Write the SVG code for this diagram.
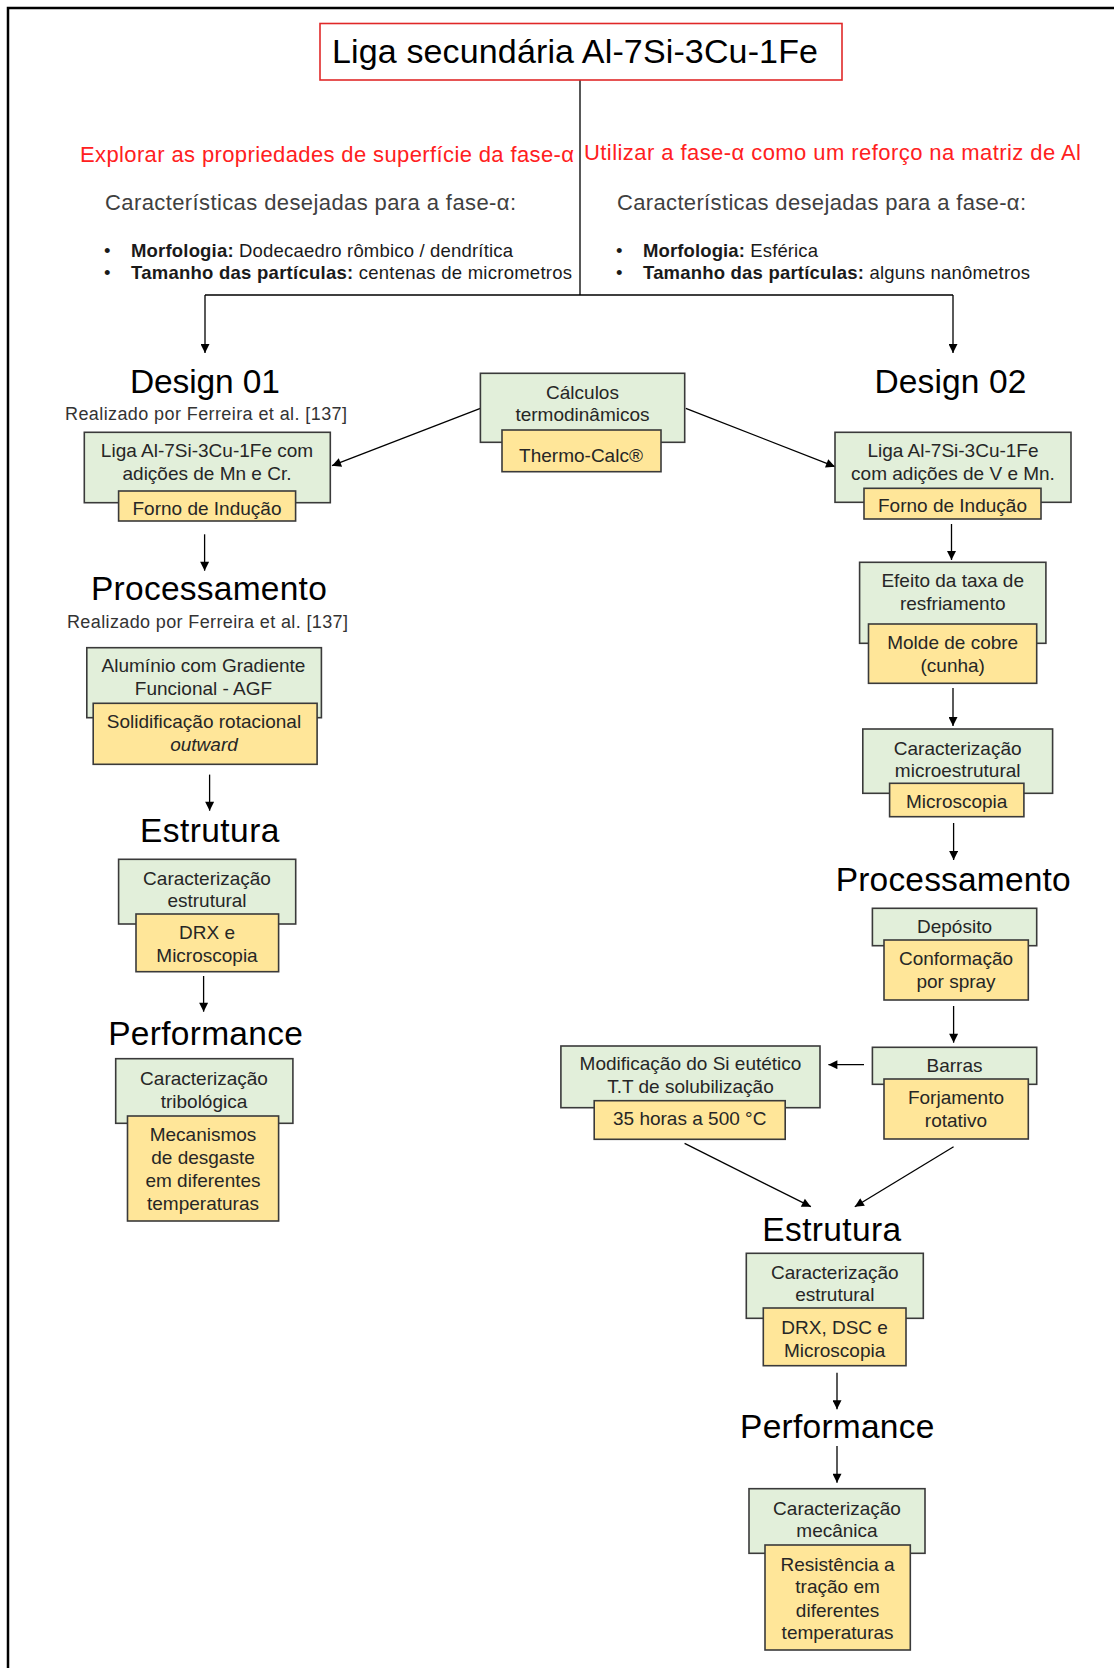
<svg xmlns="http://www.w3.org/2000/svg" width="1114" height="1668" viewBox="0 0 1114 1668">
<defs>
<style>
text{font-family:"Liberation Sans",Arial,sans-serif;}
.g{fill:#E2EFDA;stroke:#3a3a3a;stroke-width:1.6;}
.o{fill:#FFE699;stroke:#3a3a3a;stroke-width:1.6;}
.bt{font-size:19px;fill:#262626;text-anchor:middle;}
.h{font-size:33.5px;fill:#000;text-anchor:middle;}
.sub{font-size:18px;fill:#333;text-anchor:middle;}
.red{font-size:22px;fill:#FF2020;}
.car{font-size:22px;fill:#404040;}
.bul{font-size:18.5px;fill:#1a1a1a;}
.c{stroke:#000;stroke-width:1.3;fill:none;}
.ca{stroke:#000;stroke-width:1.3;fill:none;marker-end:url(#ah);}
</style>
<marker id="ah" viewBox="0 0 10 10" refX="10" refY="5" markerWidth="10" markerHeight="9" markerUnits="userSpaceOnUse" orient="auto">
<path d="M0,0 L10,5 L0,10 z" fill="#000"/>
</marker>
</defs>
<rect width="1114" height="1668" fill="#fff"/>
<path d="M8,1668 V8 H1114" fill="none" stroke="#000" stroke-width="2.5"/>

<g id="connectors">
<path class="c" d="M580,80 V295 M205,295 H953"/>
<path class="ca" d="M205,295 V353"/>
<path class="ca" d="M953,295 V353"/>
<path class="ca" d="M480.4,408.3 L332,465.7"/>
<path class="ca" d="M685.8,408.3 L835,466.7"/>
<path class="ca" d="M204.6,534.3 V570.7"/>
<path class="ca" d="M209.6,774.6 V810.7"/>
<path class="ca" d="M203.6,976 V1011.7"/>
<path class="ca" d="M951.5,524 V560"/>
<path class="ca" d="M953,688 V726"/>
<path class="ca" d="M953.6,823 V860"/>
<path class="ca" d="M953.6,1006 V1042.7"/>
<path class="ca" d="M864,1064.7 H828.4"/>
<path class="ca" d="M684.6,1143.3 L810.9,1206.7"/>
<path class="ca" d="M953.6,1146.7 L854.8,1206.7"/>
<path class="ca" d="M837,1372.7 V1409.3"/>
<path class="ca" d="M837,1446 V1482.7"/>
</g>

<g id="title">
<rect x="320" y="23.5" width="522" height="56.5" fill="#fff" stroke="#E02828" stroke-width="1.6"/>
<text x="575" y="63" font-size="34" text-anchor="middle" textLength="486" fill="#000">Liga secundária Al-7Si-3Cu-1Fe</text>
</g>

<g id="objectives">
<text class="red" x="80" y="162" textLength="494">Explorar as propriedades de superfície da fase-α</text>
<text class="red" x="584" y="160" textLength="497">Utilizar a fase-α como um reforço na matriz de Al</text>
<text class="car" x="105" y="210" textLength="411">Características desejadas para a fase-α:</text>
<text class="car" x="617" y="210" textLength="409">Características desejadas para a fase-α:</text>
<text class="bul" x="104" y="257">•</text>
<text class="bul" x="104" y="279">•</text>
<text class="bul" x="131" y="257" textLength="382"><tspan font-weight="bold">Morfologia:</tspan> Dodecaedro  rômbico / dendrítica</text>
<text class="bul" x="131" y="279" textLength="441"><tspan font-weight="bold">Tamanho das partículas:</tspan> centenas de micrometros</text>
<text class="bul" x="616" y="257">•</text>
<text class="bul" x="616" y="279">•</text>
<text class="bul" x="643" y="257" textLength="175"><tspan font-weight="bold">Morfologia:</tspan> Esférica</text>
<text class="bul" x="643" y="279" textLength="387"><tspan font-weight="bold">Tamanho das partículas:</tspan> alguns nanômetros</text>
</g>

<g id="design01">
<text class="h" x="205" y="393" textLength="150">Design 01</text>
<text class="sub" x="206" y="420" textLength="282">Realizado  por Ferreira  et al. [137]</text>
<rect class="g" x="84.3" y="432.3" width="246" height="70.4"/>
<rect class="o" x="118.6" y="491" width="177" height="30"/>
<text class="bt" x="207" y="456.7">Liga Al-7Si-3Cu-1Fe  com</text>
<text class="bt" x="207" y="480">adições de Mn e Cr.</text>
<text class="bt" x="207" y="515">Forno de Indução</text>
</g>

<g id="calculos">
<rect class="g" x="480.4" y="373.3" width="204.3" height="69"/>
<rect class="o" x="502" y="430" width="159" height="41.7"/>
<text class="bt" x="582.5" y="398.7">Cálculos</text>
<text class="bt" x="582.5" y="420.7">termodinâmicos</text>
<text class="bt" x="581" y="461.7">Thermo-Calc®</text>
</g>

<g id="design02">
<text class="h" x="950.5" y="392.7" textLength="152">Design 02</text>
<rect class="g" x="835" y="432.3" width="236" height="70"/>
<rect class="o" x="864" y="488.3" width="177" height="30.7"/>
<text class="bt" x="953" y="456.7">Liga Al-7Si-3Cu-1Fe</text>
<text class="bt" x="953" y="480">com adições de V e Mn.</text>
<text class="bt" x="952.5" y="512">Forno de Indução</text>
</g>

<g id="efeito">
<rect class="g" x="859.6" y="562.3" width="186.3" height="81"/>
<rect class="o" x="868.5" y="624" width="168.2" height="59.3"/>
<text class="bt" x="952.7" y="587.3">Efeito da taxa de</text>
<text class="bt" x="952.7" y="610">resfriamento</text>
<text class="bt" x="952.7" y="649.3">Molde de cobre</text>
<text class="bt" x="952.7" y="671.7">(cunha)</text>
</g>

<g id="microestrutural">
<rect class="g" x="862.8" y="729" width="189.8" height="64.3"/>
<rect class="o" x="889.6" y="783.3" width="134.3" height="33.4"/>
<text class="bt" x="957.7" y="755">Caracterização</text>
<text class="bt" x="957.7" y="777">microestrutural</text>
<text class="bt" x="956.7" y="808">Microscopia</text>
</g>

<g id="processamento02">
<text class="h" x="953.2" y="890.7" textLength="235">Processamento</text>
<rect class="g" x="872.4" y="908.3" width="164.3" height="37.4"/>
<rect class="o" x="884" y="940" width="144.3" height="60"/>
<text class="bt" x="954.5" y="933.3">Depósito</text>
<text class="bt" x="956" y="965">Conformação</text>
<text class="bt" x="956" y="988.3">por spray</text>
</g>

<g id="barras">
<rect class="g" x="872.4" y="1047.3" width="164.3" height="37"/>
<rect class="o" x="884" y="1079" width="144.3" height="60"/>
<text class="bt" x="954.5" y="1072.3">Barras</text>
<text class="bt" x="956" y="1104">Forjamento</text>
<text class="bt" x="956" y="1126.7">rotativo</text>
</g>

<g id="modificacao">
<rect class="g" x="560.9" y="1046" width="259.1" height="61.7"/>
<rect class="o" x="594.2" y="1100.7" width="191" height="38.6"/>
<text class="bt" x="690.5" y="1070">Modificação do Si eutético</text>
<text class="bt" x="690.5" y="1093.3">T.T  de solubilização</text>
<text class="bt" x="689.7" y="1125">35 horas  a 500 °C</text>
</g>

<g id="estrutura02">
<text class="h" x="831.7" y="1240.7" textLength="138.7">Estrutura</text>
<rect class="g" x="746.3" y="1253.3" width="177" height="65"/>
<rect class="o" x="763.3" y="1308" width="142.7" height="57.7"/>
<text class="bt" x="834.8" y="1279">Caracterização</text>
<text class="bt" x="834.8" y="1301">estrutural</text>
<text class="bt" x="834.6" y="1334.3">DRX,  DSC e</text>
<text class="bt" x="834.6" y="1356.7">Microscopia</text>
</g>

<g id="performance02">
<text class="h" x="837.2" y="1438.3" textLength="194.3">Performance</text>
<rect class="g" x="749" y="1488.7" width="176" height="64.6"/>
<rect class="o" x="765" y="1545" width="145.3" height="105"/>
<text class="bt" x="837" y="1515">Caracterização</text>
<text class="bt" x="837" y="1537.3">mecânica</text>
<text class="bt" x="837.6" y="1570.7">Resistência a</text>
<text class="bt" x="837.6" y="1593.3">tração em</text>
<text class="bt" x="837.6" y="1616.7">diferentes</text>
<text class="bt" x="837.6" y="1639.3">temperaturas</text>
</g>

<g id="processamento01">
<text class="h" x="208.9" y="600" textLength="235.8">Processamento</text>
<text class="sub" x="207.5" y="628.3" textLength="281">Realizado  por Ferreira  et al. [137]</text>
<rect class="g" x="86.8" y="647.7" width="234.6" height="70"/>
<rect class="o" x="93.2" y="703.3" width="223.9" height="61"/>
<text class="bt" x="203.5" y="671.7">Alumínio com Gradiente</text>
<text class="bt" x="203.5" y="695">Funcional - AGF</text>
<text class="bt" x="204" y="728.3">Solidificação rotacional</text>
<text class="bt" x="204" y="750.7" font-style="italic">outward</text>
</g>

<g id="estrutura01">
<text class="h" x="209.7" y="841.7" textLength="139.3">Estrutura</text>
<rect class="g" x="118.6" y="859.3" width="177.1" height="64.7"/>
<rect class="o" x="136" y="914" width="142.6" height="57.7"/>
<text class="bt" x="207" y="885">Caracterização</text>
<text class="bt" x="207" y="906.7">estrutural</text>
<text class="bt" x="207" y="939">DRX  e</text>
<text class="bt" x="207" y="961.7">Microscopia</text>
</g>

<g id="performance01">
<text class="h" x="205.5" y="1045" textLength="194.7">Performance</text>
<rect class="g" x="115.7" y="1058.7" width="177.2" height="64.6"/>
<rect class="o" x="127.5" y="1116" width="151.1" height="105"/>
<text class="bt" x="204" y="1085">Caracterização</text>
<text class="bt" x="204" y="1107.7">tribológica</text>
<text class="bt" x="203" y="1141">Mecanismos</text>
<text class="bt" x="203" y="1164">de desgaste</text>
<text class="bt" x="203" y="1187.3">em diferentes</text>
<text class="bt" x="203" y="1210">temperaturas</text>
</g>
</svg>
